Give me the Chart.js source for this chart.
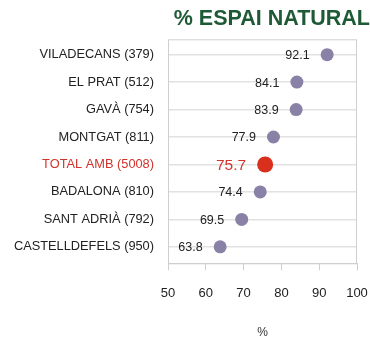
<!DOCTYPE html>
<html>
<head>
<meta charset="utf-8">
<script src="https://cdn.jsdelivr.net/npm/chart.js@4/dist/chart.umd.min.js"></script>
<style>
  html, body { margin: 0; padding: 0; background: #fff; }
  #wrap { width: 370px; height: 337px; }
</style>
</head>
<body>
<div id="wrap"><canvas id="c" width="370" height="337"></canvas></div>
<script>
// Municipalities (sample size in brackets) and share of natural space, %
const categories = [
  'VILADECANS (379)', 'EL PRAT (512)', 'GAVÀ (754)', 'MONTGAT (811)',
  'TOTAL AMB (5008)', 'BADALONA (810)', 'SANT ADRIÀ (792)', 'CASTELLDEFELS (950)'
];
const values = [92.1, 84.1, 83.9, 77.9, 75.7, 74.4, 69.5, 63.8];
const totalLabel = 'TOTAL AMB (5008)';
const xTicks = [50, 60, 70, 80, 90, 100];

const PURPLE = '#8a82a6';
const RED = '#d8301c';
const RED_TEXT = '#d0342c';
const FONT = '"Liberation Sans", Arial, sans-serif';

const isTotal = categories.map(c => c === totalLabel);

// value labels to the left of each dot, plus the frame around the plot
const labelsPlugin = {
  id: 'valueLabels',
  afterDatasetsDraw(chart) {
    const ctx = chart.ctx;
    const meta = chart.getDatasetMeta(0);
    ctx.save();
    meta.data.forEach((pt, i) => {
      const total = isTotal[i];
      ctx.font = (total ? '15.5px ' : '12.5px ') + FONT;
      ctx.fillStyle = total ? RED_TEXT : '#222';
      ctx.textAlign = 'right';
      ctx.textBaseline = 'middle';
      const r = total ? 8 : 6.5;
      ctx.fillText(values[i].toFixed(1), pt.x - r - 11, pt.y + 1);
    });
    const a = chart.chartArea;
    ctx.strokeStyle = '#cfcfcf';
    ctx.lineWidth = 1;
    ctx.strokeRect(a.left + 0.5, a.top + 0.5, a.right - a.left - 1, a.bottom - a.top);
    ctx.restore();
  }
};

new Chart(document.getElementById('c'), {
  type: 'scatter',
  data: {
    datasets: [{
      data: categories.map((c, i) => ({ x: values[i], y: i })),
      pointRadius: categories.map((c, i) => isTotal[i] ? 8 : 6.5),
      pointBackgroundColor: categories.map((c, i) => isTotal[i] ? RED : PURPLE),
      pointBorderWidth: 0,
      pointHoverRadius: categories.map((c, i) => isTotal[i] ? 8 : 6.5)
    }]
  },
  options: {
    responsive: false,
    animation: false,
    layout: { padding: { left: 0, right: 0, top: 0, bottom: 0 } },
    plugins: {
      legend: { display: false },
      tooltip: { enabled: false },
      title: {
        display: true,
        text: '% ESPAI NATURAL',
        align: 'end',
        color: '#1f5a36',
        font: { family: FONT, size: 21.5, weight: 'bold' },
        padding: { top: 6, bottom: 7.5 }
      }
    },
    scales: {
      x: {
        type: 'linear',
        min: 50,
        max: 100,
        afterBuildTicks(scale) { scale.ticks = xTicks.map(v => ({ value: v })); },
        afterFit(scale) { scale.height = 73.7; scale.paddingRight = 13; },
        grid: { drawOnChartArea: false, color: '#cfcfcf', tickLength: 7 },
        border: { color: '#cfcfcf' },
        ticks: {
          color: '#222',
          padding: 15,
          font: { family: FONT, size: 13 }
        },
        title: {
          display: true,
          text: '%',
          color: '#333',
          padding: { top: 0, bottom: -3 },
          font: { family: FONT, size: 12 }
        }
      },
      y: {
        type: 'linear',
        reverse: true,
        min: -0.56,
        max: categories.length - 0.4,
        afterBuildTicks(scale) { scale.ticks = categories.map((c, i) => ({ value: i })); },
        afterFit(scale) { scale.width = 168; },
        grid: { color: '#e2e2e2', lineWidth: 1.5, tickLength: 0 },
        border: { display: false },
        ticks: {
          padding: 14,
          callback: (v) => categories[v],
          color: (ctx) => categories[ctx.tick.value] === totalLabel ? RED_TEXT : '#222',
          font: { family: FONT, size: 12.8 }
        }
      }
    }
  },
  plugins: [labelsPlugin]
});
</script>
</body>
</html>
